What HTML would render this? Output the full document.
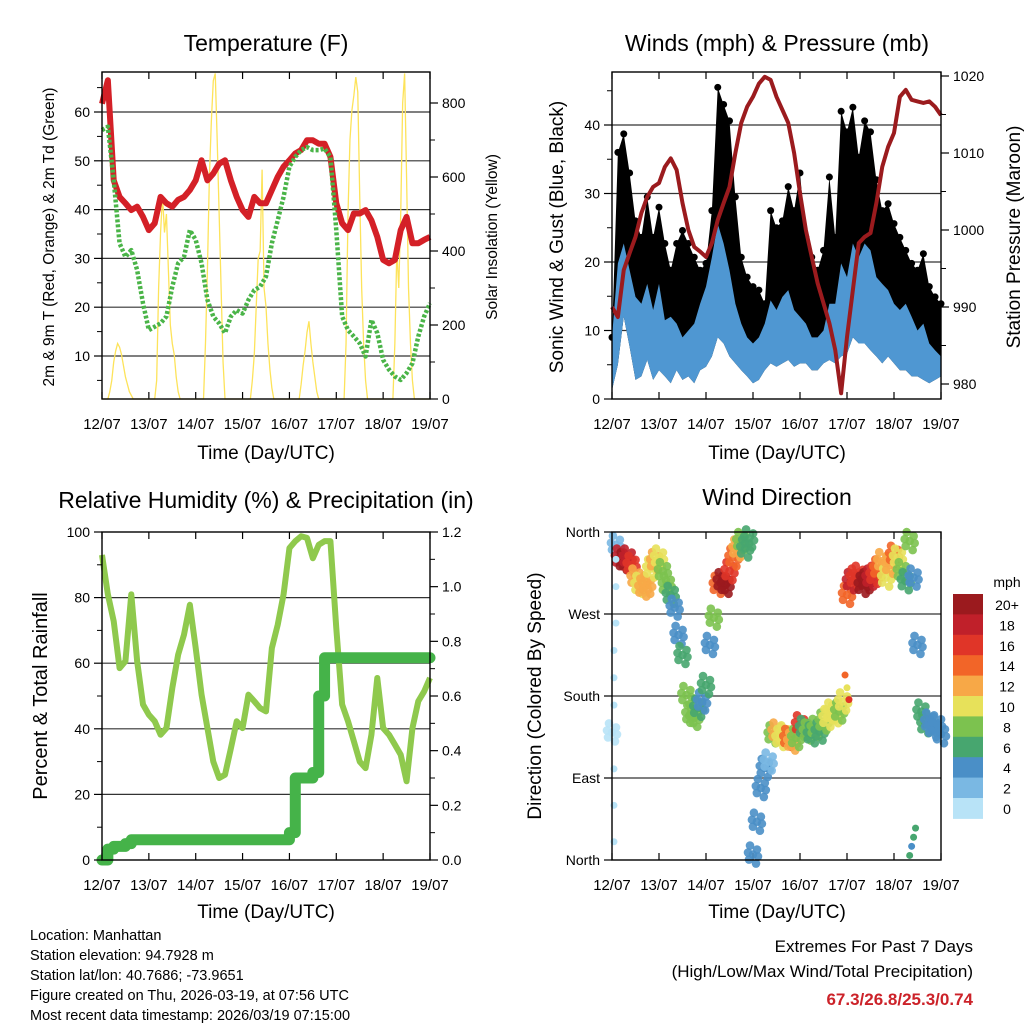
<!DOCTYPE html>
<html><head><meta charset="utf-8">
<style>
html,body{margin:0;padding:0;background:#fff;}
svg{display:block;font-family:"Liberation Sans",Arial,sans-serif;}
</style></head>
<body>
<svg id="chart" width="1024" height="1024" viewBox="0 0 1024 1024" xmlns="http://www.w3.org/2000/svg">
<rect width="1024" height="1024" fill="#fff"/>
<g id="layer"></g>
<text x="266" y="51" font-size="23" text-anchor="middle">Temperature (F)</text>
<text x="777" y="51" font-size="23" text-anchor="middle">Winds (mph) &amp; Pressure (mb)</text>
<text x="266" y="508" font-size="23" text-anchor="middle">Relative Humidity (%) &amp; Precipitation (in)</text>
<text x="777" y="505" font-size="23" text-anchor="middle">Wind Direction</text>

<text x="266" y="459" font-size="19" text-anchor="middle">Time (Day/UTC)</text>
<text x="777" y="459" font-size="19" text-anchor="middle">Time (Day/UTC)</text>
<text x="266" y="918" font-size="19" text-anchor="middle">Time (Day/UTC)</text>
<text x="777" y="918" font-size="19" text-anchor="middle">Time (Day/UTC)</text>

<text transform="translate(54,237) rotate(-90)" font-size="15.5" text-anchor="middle">2m &amp; 9m T (Red, Orange) &amp; 2m Td (Green)</text>
<text transform="translate(497,237) rotate(-90)" font-size="15.5" text-anchor="middle">Solar Insolation (Yellow)</text>
<text transform="translate(563,237) rotate(-90)" font-size="19" text-anchor="middle">Sonic Wind &amp; Gust (Blue, Black)</text>
<text transform="translate(1020,237) rotate(-90)" font-size="19" text-anchor="middle">Station Pressure (Maroon)</text>
<text transform="translate(47,696) rotate(-90)" font-size="20" text-anchor="middle">Percent &amp; Total Rainfall</text>
<text transform="translate(541,696) rotate(-90)" font-size="19" text-anchor="middle">Direction (Colored By Speed)</text>

<g font-size="14.5">
<text x="30" y="940">Location: Manhattan</text>
<text x="30" y="960">Station elevation: 94.7928 m</text>
<text x="30" y="980">Station lat/lon: 40.7686; -73.9651</text>
<text x="30" y="1000">Figure created on Thu, 2026-03-19, at 07:56 UTC</text>
<text x="30" y="1020">Most recent data timestamp: 2026/03/19 07:15:00</text>
</g>
<g text-anchor="end">
<text x="973" y="952" font-size="17">Extremes For Past 7 Days</text>
<text x="973" y="977" font-size="17">(High/Low/Max Wind/Total Precipitation)</text>
<text x="973" y="1005" font-size="17" font-weight="bold" fill="#cc2229">67.3/26.8/25.3/0.74</text>
</g>
</svg>
<script>
// ---------- data (3-hourly unless noted) ----------
const dayLabels = ["12/07","13/07","14/07","15/07","16/07","17/07","18/07","19/07"];
const tempF = [61.7,66.5,46,42.6,41.3,39.9,40.6,38.5,35.8,37.2,42.6,41.3,40.6,42,42.6,44,46,50.1,46,47.4,49.4,50.1,46,42.6,39.9,38.5,42.6,41.3,41.3,44,46.7,48.8,50.1,51.5,52.2,54.2,54.2,53.5,53.5,50.8,41.3,37.2,35.8,39.2,39.2,39.9,37.8,34.4,29.7,29,29.7,35.8,38.5,33.1,33.1,33.8,34.4];
const dewF = [56.3,57,46,33.1,30.3,31.7,27.6,20.8,15.3,16,16.7,18.1,24.2,29,30.3,35.8,33.8,29,21.5,18.1,16.7,14.7,18.1,19.4,18.7,21.5,23.5,24.2,26.3,33.1,37.8,42.6,48.8,50.8,52.2,52.8,52.2,52.2,52.5,50.8,35.8,18.1,15.3,14,12.6,9.9,17.4,14.7,9.2,7.2,5.8,5.1,6.5,8.5,14,18.1,20.8];
// hourly solar insolation, one row per day
const solar = [
 0,0,0,0,20,50,100,130,150,140,120,90,60,40,20,10,0,0,0,0,0,0,0,0,
 0,0,0,0,50,300,450,550,450,500,350,200,150,120,60,20,0,0,0,0,0,0,0,0,
 0,0,0,0,0,150,350,600,750,860,880,700,500,300,100,0,0,0,0,0,0,0,0,0,
 0,0,0,0,0,50,120,250,380,400,620,300,250,150,80,30,0,0,0,0,0,0,0,0,
 0,0,0,0,0,0,40,90,130,180,210,150,100,60,20,0,0,0,0,0,0,0,0,0,
 0,0,0,0,0,150,500,700,780,820,870,830,550,300,150,50,0,0,0,0,0,0,0,0,
 0,0,0,0,0,0,150,400,300,500,800,880,600,300,150,50,0,0,0,0,0,0,0,0,0];
const gustHigh = [9,36,38.7,33,26,23.6,29.5,23.6,28,22.7,18.8,22.7,24.6,22.7,20.7,18.8,19.8,27.5,45.5,43,40.6,29.5,20.7,17.8,16.4,15.9,13.9,27.5,25,26,31,27.5,33,23.6,20.7,18.8,21.7,32.4,23.6,42,39,42.6,35.3,40.6,39,32,27.5,28.5,25.6,23.6,21.7,19.8,18.8,21.2,16.4,14.9,13.9];
const windHigh = [9,19.8,22.7,18.8,14.9,13.9,16.8,13,16.8,11.5,12,11,9,10,11,13.9,16.4,20.7,25.6,22.7,18.8,13.9,11,9,8.1,9,11,14.4,13,14.9,15.9,13,12,11,9,9,10,13.9,13.9,19.8,17.8,22.7,20.7,22.7,21.7,17.8,16.8,15.9,13.9,13,13.9,12,10,11,8.1,7.1,6.2];
const windLow = [1.3,5,12,7.6,2.8,3.3,5.7,2.8,4.2,3.3,2.3,4.2,2.8,3.3,2.3,4.2,4.7,6.2,9,8.1,6.2,5.2,4.2,3.3,2.3,2.8,4.2,5.2,4.7,5.2,5.7,4.7,5.2,5.2,4.2,4.2,5.2,5.7,5.2,6.2,6.6,9,8.1,8.1,7.1,6.2,5.2,6.2,5.2,4.2,4.2,3.3,3.3,2.8,2.3,2.8,3.3];
const pressureMb = [990,988.7,994.8,997,999.1,1002.2,1004.3,1005.6,1006.1,1008.2,1009.3,1007.8,1003.5,1000,997.8,997.2,996.5,998.3,1001.3,1003.5,1005.6,1010,1013.9,1016,1017.3,1019,1019.9,1019.5,1017.3,1015.6,1013.9,1010,1004.8,1000,996.5,993.1,990.5,987.9,984.4,978.8,986.1,992.2,998.3,999.1,999.6,1003.5,1008.2,1010.8,1012.6,1017.3,1018.2,1016.9,1016.7,1016.5,1016.7,1016,1014.9];
const rhPct = [93,81,72.8,58.5,60.6,81,60.6,47.4,44.3,42.3,38.2,40.2,52.4,62.6,68.7,77.8,64.6,50.4,40.2,30,25,26,34,42.3,40.2,50.4,48.4,46.3,45.3,64.6,71.7,81,95.1,97.2,98.7,98.2,92,96.1,97.2,97.2,70.7,47.4,42.3,36.2,30,28,38.2,55.5,40.2,38.2,35.2,32.1,24,40.2,48.4,51.4,55.5];
const precipIn = [0,0.04,0.05,0.05,0.06,0.074,0.074,0.074,0.074,0.074,0.074,0.074,0.074,0.074,0.074,0.074,0.074,0.074,0.074,0.074,0.074,0.074,0.074,0.074,0.074,0.074,0.074,0.074,0.074,0.074,0.074,0.074,0.1,0.3,0.3,0.3,0.32,0.6,0.74,0.74,0.74,0.74,0.74,0.74,0.74,0.74,0.74,0.74,0.74,0.74,0.74,0.74,0.74,0.74,0.74,0.74,0.74];
// 2-hourly wind direction (deg) and speed (mph)
const dirDeg = [140,346,332,328,332,324,310,302,299,302,320,328,332,317,302,291,277,247,225,181,160,156,167,174,192,236,266,302,306,302,317,332,342,350,342,353,6,42,79,101,108,138,141,134,138,134,130,134,149,145,141,138,145,141,152,156,163,160,163,174,291,306,310,313,302,306,310,313,320,328,310,324,335,332,317,306,350,310,236,163,149,152,145,149,138];
const dirSpd = [1,2,18,20,18,16,12,10,12,12,10,12,10,8,8,6,5,4,6,8,8,8,7,5,6,4,9,14,20,20,16,14,12,9,7,6,4,5,4,4,3,8,13,11,10,15,12,8,16,7,8,7,8,7,8,10,10,10,9,11,14,18,16,16,20,20,18,16,14,12,10,12,14,10,8,6,8,4,4,7,6,4,5,4,4];
const extraHour = [1,1,1,1,1,1,2,2,2,119,120,121,152,153,154,155];
const extraDir = [20,60,100,170,200,230,260,300,330,203,189,176,5,15,25,35];
const extraSpd = [1,1,1,0,1,1,1,0,1,14,10,16,6,5,6,7];
const cbLabels = ["0","2","4","6","8","10","12","14","16","18","20+"];
const cbColors = ["#b8e3f7","#7ab8e3","#4a8fc7","#47a66f","#7cc24f","#e7e15a","#f7a847","#f26528","#e03528","#c0202a","#9b1a1e"];

// ---------- helpers ----------
const NS = "http://www.w3.org/2000/svg";
const layer = document.getElementById("layer");
function mk(tag, attrs, parent){ const e=document.createElementNS(NS,tag); for(const k in attrs) e.setAttribute(k,attrs[k]); (parent||layer).appendChild(e); return e; }
function lin(d0,d1,r0,r1){ return v => r0 + (v-d0)*(r1-r0)/(d1-d0); }
function spdColor(s){ let k=Math.floor(s/2); if(k>10)k=10; if(k<0)k=0; return cbColors[k]; }

function frame(x0,x1,y0,y1,name){
  const g=mk("g",{});
  
  
  const xs=lin(0,7,x0,x1);
  dayLabels.forEach((lab,i)=>{
    const x=xs(i);
    mk("line",{x1:x,x2:x,y1:y1,y2:y1-7,stroke:"#000","stroke-width":1.2},g);
    mk("line",{x1:x,x2:x,y1:y0,y2:y0+7,stroke:"#000","stroke-width":1.2},g);
    const t=mk("text",{x:x,y:y1+30,"font-size":15,"text-anchor":"middle"},g); t.textContent=lab;
  });
  return xs;
}
function yAxis(x,y,vals,labels,side,name,minor){
  const g=mk("g",{});
  
  
  const dir = side==="left"?-1:1;
  vals.forEach((v,i)=>{
    const yy=y(v);
    mk("line",{x1:x,x2:x+dir*8,y1:yy,y2:yy,stroke:"#000","stroke-width":1.2},g);
    const t=mk("text",{x:x+dir*12,y:yy+5,"font-size":14,"text-anchor":side==="left"?"end":"start"},g);
    t.textContent=labels[i];
  });
  (minor||[]).forEach(v=>{ const yy=y(v); mk("line",{x1:x,x2:x+dir*5,y1:yy,y2:yy,stroke:"#000","stroke-width":1},g); });
}
function grid(x0,x1,ys){ ys.forEach(yy=>mk("line",{x1:x0,x2:x1,y1:yy,y2:yy,stroke:"#333","stroke-width":1.2})); }
function box(x0,x1,y0,y1,name){ const r=mk("rect",{x:x0,y:y0,width:x1-x0,height:y1-y0,fill:"none",stroke:"#000","stroke-width":1.4});   }
function pts(arr,xs,ys,step){ return arr.map((v,i)=>xs(i*step/24)+","+ys(v)).join(" "); }

// ---------- Panel 1: temperature ----------
(function(){
  const x0=102,x1=430,y0=72,y1=399;
  const xs=frame(x0,x1,y0,y1,"temp");
  const yT=lin(10,60,356,112);
  const yS=lin(0,800,399,103);
  grid(x0,x1,[10,20,30,40,50,60].map(yT));
  const sol=mk("polyline",{points:pts(solar,xs,yS,1),fill:"none",stroke:"#fde35a","stroke-width":1.3});
   
  const tl=mk("polyline",{points:pts(tempF,xs,yT,3),fill:"none",stroke:"#d42027","stroke-width":6,"stroke-linejoin":"round"});
   
  const dl=mk("polyline",{points:pts(dewF,xs,yT,3),fill:"none",stroke:"#4ab448","stroke-width":4.5,"stroke-dasharray":"3 2","stroke-linejoin":"round"});
   
  box(x0,x1,y0,y1,"temperature-plot-area");
  yAxis(x0,yT,[10,20,30,40,50,60],["10","20","30","40","50","60"],"left","temp-y-axis",[5,15,25,35,45,55,65]);
  yAxis(x1,yS,[0,200,400,600,800],["0","200","400","600","800"],"right","solar-y-axis",[100,300,500,700]);
})();

// ---------- Panel 2: winds & pressure ----------
(function(){
  const x0=612,x1=941,y0=72,y1=399;
  const xs=frame(x0,x1,y0,y1,"wind");
  const yW=lin(0,40,399,125);
  const yP=lin(980,1020,384,76);
  grid(x0,x1,[10,20,30,40].map(yW));
  const top=gustHigh.map((v,i)=>xs(i*3/24)+","+yW(v));
  const bot=windLow.map((v,i)=>xs(i*3/24)+","+yW(v)).reverse();
  const gb=mk("polygon",{points:top.concat(bot).join(" "),fill:"#000"});
   
  gustHigh.forEach((v,i)=>{
    const c=mk("circle",{cx:xs(i*3/24),cy:yW(v),r:3.5,fill:"#000"});
     
  });
  const wt=windHigh.map((v,i)=>xs(i*3/24)+","+yW(v));
  const wb=mk("polygon",{points:wt.concat(bot).join(" "),fill:"#4f97d2"});
   
  const pl=mk("polyline",{points:pts(pressureMb,xs,yP,3),fill:"none",stroke:"#9b1b1e","stroke-width":4,"stroke-linejoin":"round"});
   
  box(x0,x1,y0,y1,"winds-plot-area");
  yAxis(x0,yW,[0,10,20,30,40],["0","10","20","30","40"],"left","wind-y-axis",[5,15,25,35,45]);
  yAxis(x1,yP,[980,990,1000,1010,1020],["980","990","1000","1010","1020"],"right","pressure-y-axis",[985,995,1005,1015]);
})();

// ---------- Panel 3: RH & precipitation ----------
(function(){
  const x0=102,x1=430,y0=532,y1=860;
  const xs=frame(x0,x1,y0,y1,"rh");
  const yR=lin(0,100,860,532);
  const yPr=lin(0,1.2,860,532);
  grid(x0,x1,[20,40,60,80].map(yR));
  const rl=mk("polyline",{points:pts(rhPct,xs,yR,3),fill:"none",stroke:"#8fc94d","stroke-width":6,"stroke-linejoin":"round"});
   
  let d="";
  precipIn.forEach((v,i)=>{ const x=xs(i*3/24), y=yPr(v); d += (i===0?"M":"L")+x+","+(i===0?y:yPr(precipIn[i-1]))+" L"+x+","+y+" "; });
  const pr=mk("path",{d:d,fill:"none",stroke:"#45b349","stroke-width":11,"stroke-linecap":"round","stroke-linejoin":"round"});
   
  box(x0,x1,y0,y1,"humidity-plot-area");
  yAxis(x0,yR,[0,20,40,60,80,100],["0","20","40","60","80","100"],"left","rh-y-axis",[10,30,50,70,90]);
  yAxis(x1,yPr,[0,0.2,0.4,0.6,0.8,1.0,1.2],["0.0","0.2","0.4","0.6","0.8","1.0","1.2"],"right","precip-y-axis",[0.1,0.3,0.5,0.7,0.9,1.1]);
})();

// ---------- Panel 4: wind direction ----------
(function(){
  const x0=612,x1=941,y0=532,y1=860;
  const xs=frame(x0,x1,y0,y1,"dir");
  const yD=lin(0,360,860,532);
  grid(x0,x1,[90,180,270].map(yD));
  const offs=[[0,0],[-4,5],[4,-5],[3,9],[-3,-9],[5,2],[-5,-2]];
  dirDeg.forEach((v,i)=>{
    offs.forEach(o=>{
      const c=mk("circle",{cx:xs(i*2/24)+o[0],cy:yD(v)+o[1],r:4.3,fill:spdColor(dirSpd[i]),"fill-opacity":0.9});
       
    });
  });
  extraDir.forEach((v,i)=>{
    const c=mk("circle",{cx:xs(extraHour[i]/24),cy:yD(v),r:3.5,fill:spdColor(extraSpd[i])});
     
  });
  box(x0,x1,y0,y1,"direction-plot-area");
  yAxis(x0,yD,[0,90,180,270,360],["North","East","South","West","North"],"left","dir-y-axis",[]);
  // colorbar
  const cb=mk("g",{});
   
  const ch=20.4, top=594;
  cbLabels.forEach((lab,i)=>{
    const k=10-i, yy=top+i*ch;
    mk("rect",{x:953,y:yy,width:30,height:ch+0.5,fill:cbColors[k]},cb);
    const t=mk("text",{x:1007,y:yy+16,"font-size":14,"text-anchor":"middle"},cb); t.textContent=cbLabels[k];
  });
  const mph=mk("text",{x:1007,y:587,"font-size":14,"text-anchor":"middle"},cb); mph.textContent="mph";
})();
</script>
</body></html>
